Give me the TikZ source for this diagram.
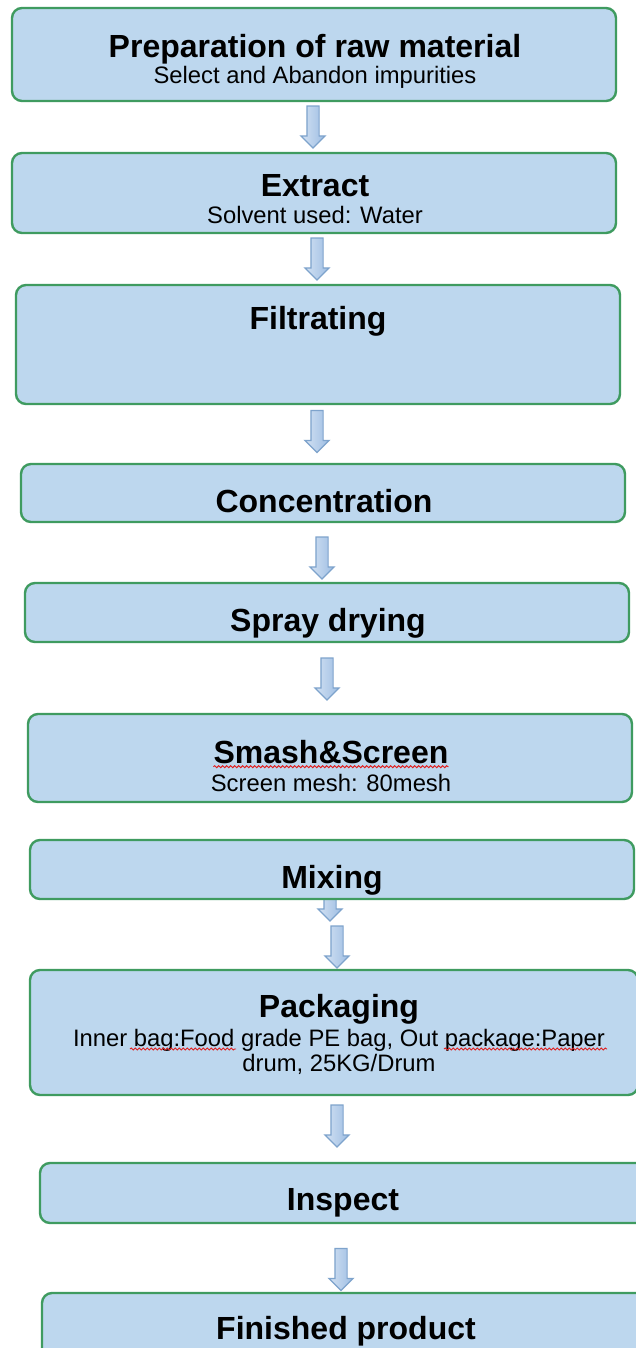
\documentclass[tikz,border=0pt]{standalone}
\usepackage{fontspec}
\setmainfont{Liberation Sans}
\usetikzlibrary{shapes.arrows,decorations.pathmorphing}
\definecolor{boxblue}{HTML}{BDD7EE}
\definecolor{boxgreen}{HTML}{3F9B60}
\definecolor{arrfill}{HTML}{9DBDE3}
\definecolor{arrline}{HTML}{7EA3CC}
\definecolor{squig}{HTML}{E02020}
\begin{document}
\begin{tikzpicture}[x=1pt,y=-1pt,
  box/.style={draw=boxgreen, line width=2.4pt, fill=boxblue, rounded corners=10pt,
    anchor=north west, inner sep=0pt, outer sep=0pt},
  flowarrow/.style={single arrow, draw=arrline, line width=1.2pt,
    left color=arrfill!45!white, right color=arrfill,
    rotate=-90, minimum height=42pt, inner xsep=0pt, inner ysep=5.5pt,
    single arrow head extend=6pt, single arrow tip angle=90},
  ttl/.style={font=\fontsize{32}{36}\selectfont\bfseries, inner sep=0pt,
    text height=23pt, text depth=0pt},
  sub/.style={font=\fontsize{23.8}{25}\selectfont, inner sep=0pt, align=center},
  wavy/.style={draw=squig, line width=0.9pt, decorate,
    decoration={snake, amplitude=1pt, segment length=4pt}}]
\useasboundingbox (0,0) rectangle (635,1348);
\fill[white] (0,0) rectangle (635,1348);

% arrows (drawn first so boxes cover their ends)
\node[flowarrow] (a1) at (313,124) {};
\node[flowarrow] (a2) at (317,256) {};
\node[flowarrow] (a3) at (317,428.5) {};
\node[flowarrow] (a4) at (322,555) {};
\node[flowarrow] (a5) at (327,676) {};
\node[flowarrow] (a6) at (330,897) {};
\node[flowarrow] (a7) at (337,944) {};
\node[flowarrow] (a8) at (337,1123) {};
\node[flowarrow] (a9) at (341,1266.5) {};

% boxes
\node[box, minimum width=604pt, minimum height=93pt] (b1) at (12,8) {};
\node[box, minimum width=604pt, minimum height=80pt] (b2) at (12,153) {};
\node[box, minimum width=604pt, minimum height=119pt] (b3) at (16,285) {};
\node[box, minimum width=604pt, minimum height=58pt] (b4) at (21,464) {};
\node[box, minimum width=604pt, minimum height=59pt] (b5) at (25,583) {};
\node[box, minimum width=604pt, minimum height=88pt] (b6) at (28,714) {};
\node[box, minimum width=604pt, minimum height=59pt] (b7) at (30,840) {};
\node[box, minimum width=608pt, minimum height=125pt] (b8) at (30,970) {};
\node[box, minimum width=606pt, minimum height=60pt] (b9) at (40,1163) {};
\node[box, minimum width=606pt, minimum height=80pt] (b10) at (42,1293) {};

% texts
\node[ttl] (t1) at (315,46) {Preparation of raw material};
\node[sub] (s1) at (315,77) {Select and Abandon impurities};
\node[ttl] (t2) at (315,185) {Extract};
\node[sub] (s2) at (315,215) {Solvent used: Water};
\node[ttl] (t3) at (318,318) {Filtrating};
\node[ttl] (t4) at (324,501) {Concentration};
\node[ttl] (t5) at (328,620) {Spray drying};
\node[ttl] (t6) at (331,752) {Smash\&Screen};
\node[sub] (s6) at (331,783) {Screen mesh: 80mesh};
\node[ttl] (t7) at (332,877) {Mixing};
\node[ttl] (t8) at (339,1006) {Packaging};
\node[sub] (s8) at (339,1052) {Inner bag:Food grade PE bag, Out package:Paper\\drum, 25KG/Drum};
\node[ttl] (t9) at (343,1199) {Inspect};
\node[ttl] (t10) at (346,1328) {Finished product};

% spell-check squiggles
\coordinate (w1a) at ([yshift=-3pt]t6.south west);
\coordinate (w1b) at ([yshift=-3pt]t6.south east);
\draw[wavy] (w1a) -- (w1b);
\coordinate (w2a) at (130,1049);
\coordinate (w2b) at (236,1049);
\draw[wavy] (w2a) -- (w2b);
\coordinate (w3a) at (444,1049);
\coordinate (w3b) at (607,1049);
\draw[wavy] (w3a) -- (w3b);
\end{tikzpicture}
\end{document}
